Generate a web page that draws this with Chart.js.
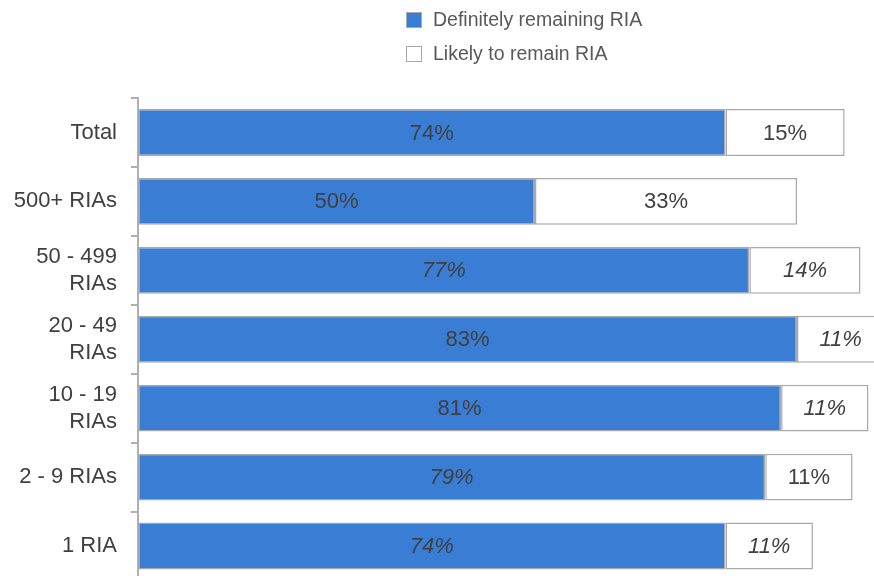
<!DOCTYPE html>
<html><head><meta charset="utf-8">
<script src="https://cdn.jsdelivr.net/npm/chart.js@4/dist/chart.umd.min.js"></script>
<style>html,body{margin:0;padding:0;background:#fff;overflow:hidden;width:874px;height:576px}canvas{display:block}</style>
</head><body>
<canvas id="c" width="932" height="608"></canvas>
<script>
const categories = ["Total", "500+ RIAs", ["50 - 499", "RIAs"], ["20 - 49", "RIAs"], ["10 - 19", "RIAs"], "2 - 9 RIAs", "1 RIA"];
const definitelyRemaining = [74, 50, 77, 83, 81, 79, 74];
const likelyToRemain = [15, 33, 14, 11, 11, 11, 11];
const seriesNames = ["Definitely remaining RIA", "Likely to remain RIA"];

// presentation settings (kept apart from the data)
const FONT = "'Liberation Sans', Arial, sans-serif";
const TEXT = "#404040";
const BLUE = "#3a7dd4";
const EDGE = "#a9a9a9";
const italicLabels = [
  [false, false, true, false, false, true, true],
  [false, false, true, true, true, false, true]
];

const valueLabels = {
  id: 'valueLabels',
  afterDatasetsDraw(chart) {
    const ctx = chart.ctx;
    ctx.save();
    ctx.textAlign = 'center';
    ctx.textBaseline = 'middle';
    ctx.fillStyle = TEXT;
    chart.data.datasets.forEach((ds, di) => {
      const meta = chart.getDatasetMeta(di);
      meta.data.forEach((el, i) => {
        const p = el.getProps(['x', 'base', 'y'], true);
        const it = italicLabels[di][i] ? 'italic ' : '';
        ctx.font = it + '22px ' + FONT;
        ctx.fillText(ds.data[i] + '%', (p.x + p.base) / 2, p.y + 1);
      });
    });
    ctx.restore();
  }
};

const boxLegend = {
  id: 'boxLegend',
  afterDraw(chart) {
    const ctx = chart.ctx;
    ctx.save();
    chart.data.datasets.forEach((ds, i) => {
      const y = 12 + i * 34;
      ctx.fillStyle = ds.backgroundColor;
      ctx.fillRect(406, y, 16, 16);
      ctx.strokeStyle = EDGE;
      ctx.lineWidth = 1;
      ctx.strokeRect(406.5, y + 0.5, 15, 15);
      ctx.fillStyle = '#595959';
      ctx.font = '19.5px ' + FONT;
      ctx.textAlign = 'left';
      ctx.textBaseline = 'middle';
      ctx.fillText(ds.label, 433, y + 8.5);
    });
    ctx.restore();
  }
};

new Chart(document.getElementById('c'), {
  type: 'bar',
  data: {
    labels: categories,
    datasets: [
      { label: seriesNames[0], data: definitelyRemaining, backgroundColor: BLUE, borderColor: EDGE, borderWidth: 1.5, borderSkipped: false },
      { label: seriesNames[1], data: likelyToRemain, backgroundColor: '#ffffff', borderColor: EDGE, borderWidth: 1.5, borderSkipped: false }
    ]
  },
  options: {
    indexAxis: 'y',
    responsive: false,
    animation: false,
    layout: { padding: { top: 98, bottom: 0, left: 0, right: 0 } },
    datasets: { bar: { categoryPercentage: 1, barPercentage: 0.68 } },
    plugins: { legend: { display: false }, tooltip: { enabled: false } },
    scales: {
      x: { stacked: true, min: 0, max: 100, display: false },
      y: {
        stacked: true,
        afterFit(scale) { scale.width = 138; },
        border: { display: true, color: '#b0b0b0', width: 2 },
        grid: { display: true, drawOnChartArea: false, offset: true, tickLength: 7, color: '#b0b0b0', lineWidth: 2 },
        ticks: { color: TEXT, padding: 14, font: { family: FONT, size: 22, lineHeight: 1.23 } }
      }
    }
  },
  plugins: [valueLabels, boxLegend]
});
</script>
</body></html>
